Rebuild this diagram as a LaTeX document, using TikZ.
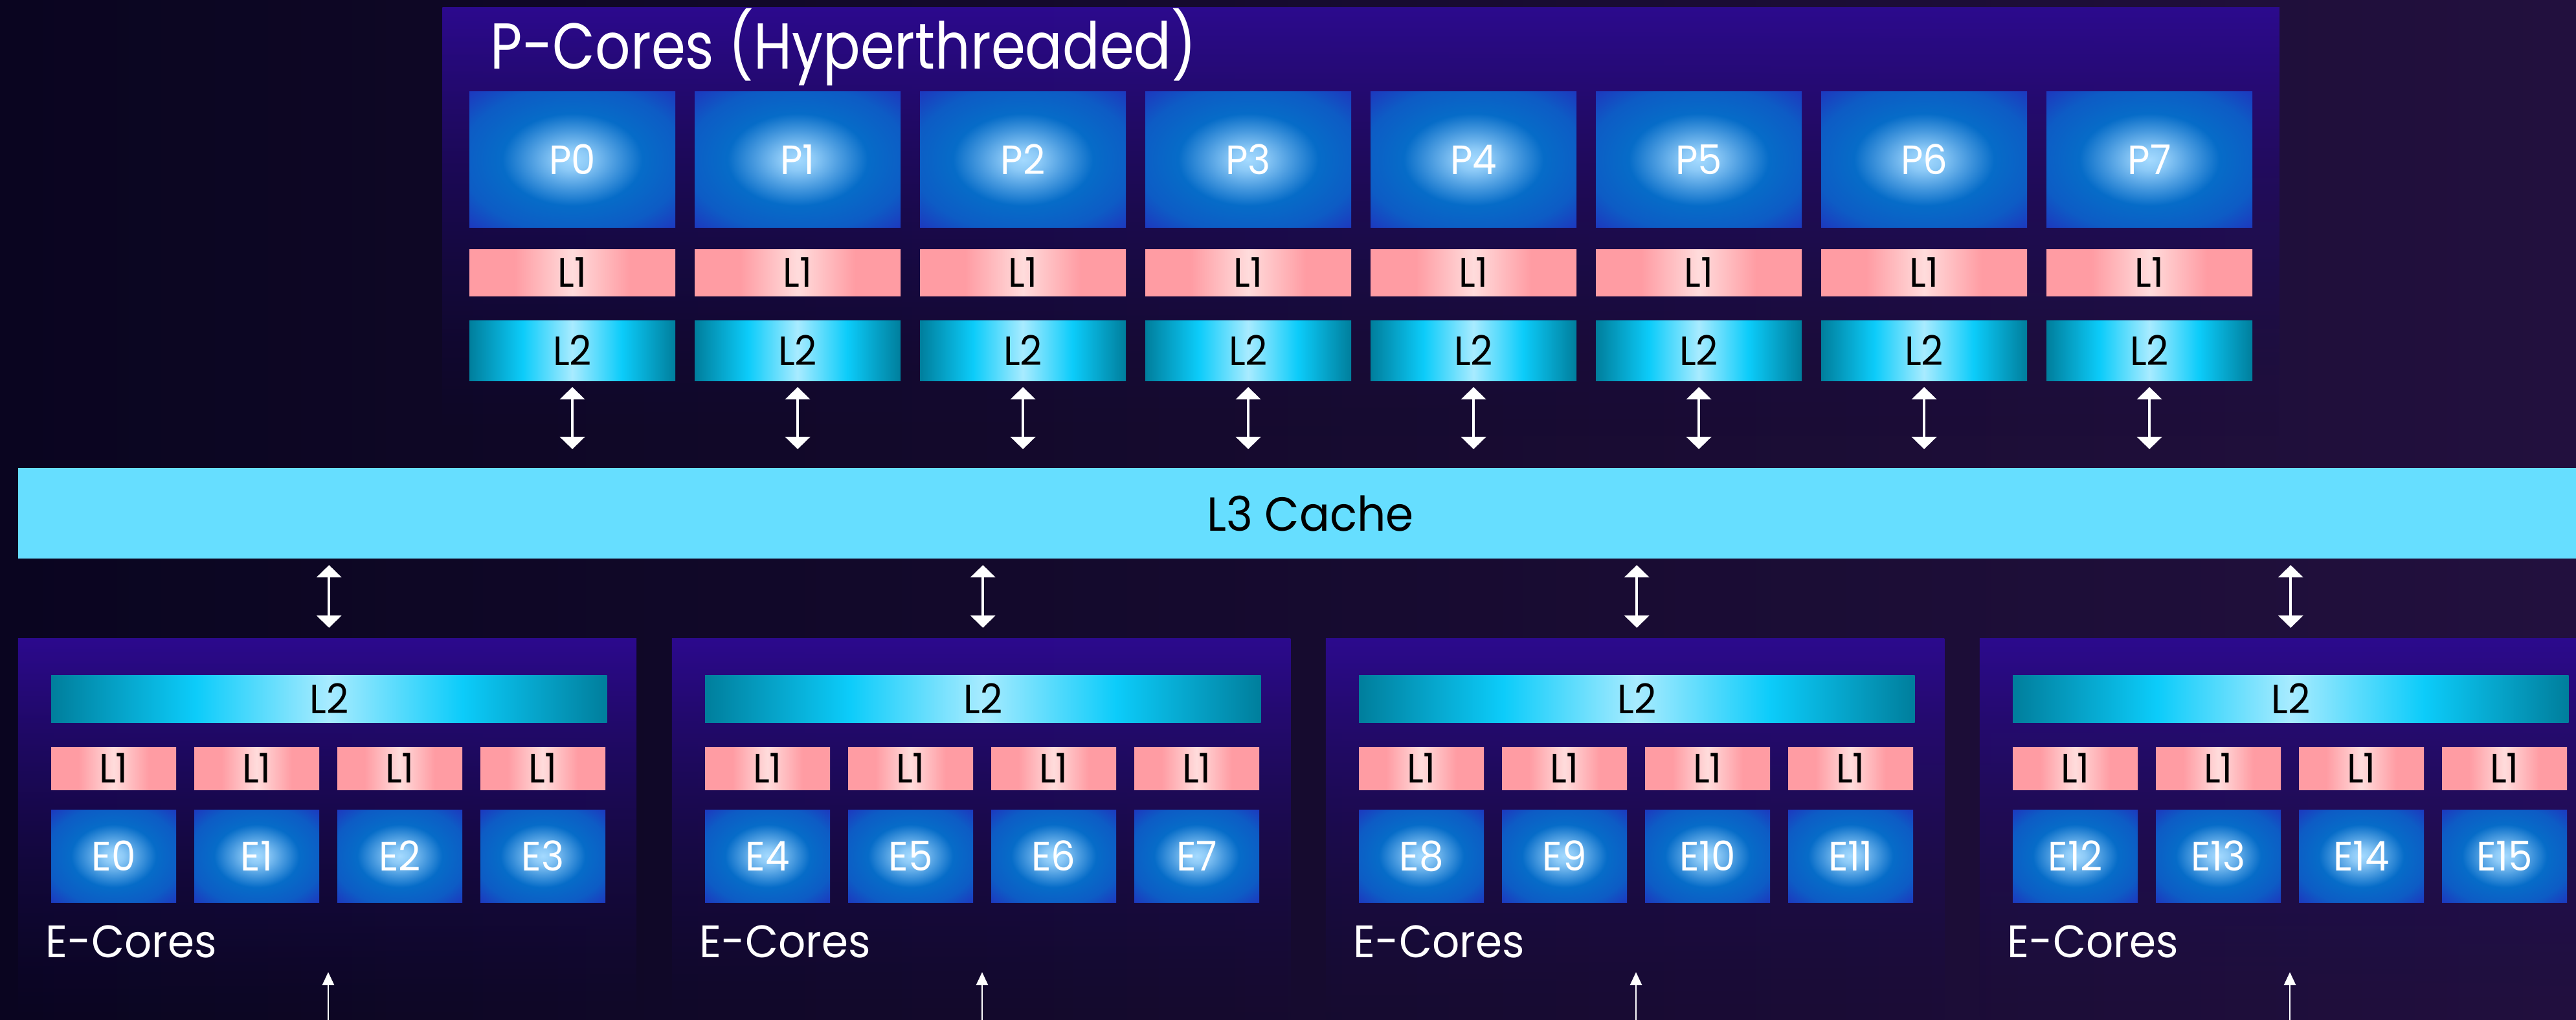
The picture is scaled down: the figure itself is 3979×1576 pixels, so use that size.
\documentclass[tikz,border=0pt]{standalone}
\usepackage{fontspec}
\setmainfont{Poppins}[FakeStretch=0.94]
\newfontfamily\titlefont{Poppins}[FakeStretch=0.85]
\usetikzlibrary{arrows.meta,fadings}

\definecolor{bgleft}{HTML}{0A0520}
\definecolor{bgright}{HTML}{22103E}
\definecolor{frametop}{HTML}{2C0A8E}
\definecolor{framebot}{HTML}{150B48}
\definecolor{coreglow}{HTML}{A4DAFF}
\definecolor{coremid}{HTML}{066CC8}
\definecolor{coreedge}{HTML}{1E36BE}
\definecolor{lonepink}{HTML}{FF9CA3}
\definecolor{loneglow}{HTML}{FFDCDC}
\definecolor{ltwoedge}{HTML}{007E9C}
\definecolor{ltwomid}{HTML}{0CCCFA}
\definecolor{ltwoglow}{HTML}{A8EBFF}
\definecolor{lthree}{HTML}{66DEFF}

\pgfdeclareradialshading{coreshade}{\pgfpoint{0bp}{0bp}}{color(0bp)=(coreglow); color(4bp)=(coreglow!85!coremid); color(10bp)=(coreglow!45!coremid); color(17bp)=(coremid); color(27bp)=(coremid!70!coreedge); color(36bp)=(coreedge); color(50bp)=(coreedge)}
\pgfdeclarehorizontalshading{loneshade}{100bp}{color(0bp)=(lonepink); color(36bp)=(lonepink); color(50bp)=(loneglow); color(64bp)=(lonepink); color(100bp)=(lonepink)}
\pgfdeclarehorizontalshading{ltwoshade}{100bp}{color(0bp)=(ltwoedge); color(25bp)=(ltwoedge); color(38bp)=(ltwomid); color(50bp)=(ltwoglow); color(62bp)=(ltwomid); color(75bp)=(ltwoedge); color(100bp)=(ltwoedge)}
\tikzfading[name=fadedown, top color=transparent!0, bottom color=transparent!100]

\begin{document}
\begin{tikzpicture}[x=0.01cm,y=-0.01cm,
	box/.style={inner sep=0pt,outer sep=0pt,anchor=north west},
	frame/.style={box,top color=frametop,bottom color=framebot,path fading=fadedown},
	core/.style={box,shade,shading=coreshade,text=white,font=\fontsize{18}{18}\selectfont},
	lone/.style={box,shade,shading=loneshade,text=black,font=\fontsize{18}{18}\selectfont},
	ltwo/.style={box,shade,shading=ltwoshade,text=black,font=\fontsize{18}{18}\selectfont},
	link/.style={{Triangle[width=0.38cm,length=0.19cm]}-{Triangle[width=0.38cm,length=0.19cm]},white,line width=0.04cm},
	feed/.style={-{Triangle[width=0.18cm,length=0.2cm]},white,line width=0.025cm},
	heading/.style={anchor=base west,text=white,inner sep=0pt}]
	\useasboundingbox (0,0) rectangle (3979,1576);
	\clip (0,0) rectangle (3979,1576);
	\shade[left color=bgleft,right color=bgright] (0,0) rectangle (3979,1576);
	% P-core block
	\node[frame,minimum width=28.37cm,minimum height=6.6cm] (pblock) at (684,12) {};
	\node[heading,font=\titlefont\fontsize{28.5}{28.5}\selectfont] (ptitle) at (757,107) {P-Cores (Hyperthreaded)};
	\node[box,fill=lthree,minimum width=39.9cm,minimum height=1.4cm,font=\fontsize{21}{21}\selectfont] (l3) at (28,723) {L3 Cache};
	\foreach \i in {0,...,7} {
		\node[core,minimum width=3.18cm,minimum height=2.09cm] (p\i) at ({725+348*\i},142) {P\i};
		\node[lone,minimum width=3.18cm,minimum height=0.72cm] (pa\i) at ({725+348*\i},385) {L1};
		\node[ltwo,minimum width=3.18cm,minimum height=0.93cm] (pb\i) at ({725+348*\i},495) {L2};
		\draw[link] ([yshift=-0.1cm]pb\i.south) -- ([yshift=0.29cm]pb\i.south |- l3.north);
	}
	% E-core clusters
	\foreach \c in {0,...,3} {
		\pgfmathsetmacro{\clx}{28+1010*\c}
		\node[frame,minimum width=9.55cm,minimum height=5.9cm] (eblock\c) at (\clx,986) {};
		\node[ltwo,minimum width=8.58cm,minimum height=0.73cm] (eb\c) at ({\clx+51},1043) {L2};
		\foreach \k in {0,...,3} {
			\pgfmathtruncatemacro{\n}{4*\c+\k}
			\node[lone,minimum width=1.93cm,minimum height=0.66cm] (ea\n) at ({\clx+51+221*\k},1154) {L1};
			\node[core,minimum width=1.93cm,minimum height=1.43cm] (e\n) at ({\clx+51+221*\k},1251) {E\n};
		}
		\node[heading,font=\fontsize{20}{20}\selectfont] (elabel\c) at ({\clx+42},1479) {E-Cores};
		\draw[link] ([yshift=-0.1cm]eb\c.north |- l3.south) -- ([yshift=0.16cm]eblock\c.north -| eb\c.north);
		\coordinate (ein\c) at ({\clx+479},1576);
		\coordinate (etip\c) at ({\clx+479},1502);
		\draw[feed] (ein\c) -- (etip\c);
	}
\end{tikzpicture}
\end{document}
